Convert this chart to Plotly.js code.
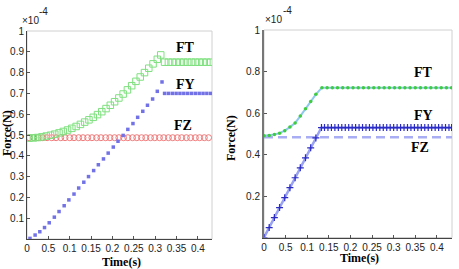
<!DOCTYPE html>
<html><head><meta charset="utf-8">
<script src="https://cdn.plot.ly/plotly-3.0.1.min.js"></script>
<style>html,body{margin:0;padding:0;background:#fff}#c{width:459px;height:269px}</style>
</head><body><div id="c"></div>
<script>
// ---- Left chart data ----
const tickLabelsX = ["0","0.5","0.1","0.15","0.2","0.25","0.3","0.35","0.4"];
const tickValsX = [0,0.05,0.1,0.15,0.2,0.25,0.3,0.35,0.4];

const leftFT_t = [0.005,0.015,0.025,0.035,0.045,0.055,0.065,0.075,0.085,0.095,0.105,0.115,0.125,0.135,0.145,0.155,0.165,0.175,0.185,0.195,0.205,0.215,0.225,0.235,0.245,0.255,0.265,0.275,0.285,0.295,0.305,0.313,
  0.322,0.331,0.340,0.349,0.358,0.367,0.376,0.385,0.394,0.403,0.412,0.421,0.430];
const leftFT_v = [0.485,0.486,0.488,0.491,0.495,0.499,0.504,0.510,0.517,0.524,0.532,0.541,0.551,0.562,0.573,0.585,0.598,0.612,0.627,0.643,0.660,0.678,0.697,0.717,0.737,0.758,0.779,0.800,0.821,0.842,0.864,0.885,
  0.85,0.85,0.85,0.85,0.85,0.85,0.85,0.85,0.85,0.85,0.85,0.85,0.85];

const leftFY_t = [0.007,0.019,0.030,0.041,0.052,0.064,0.075,0.087,0.098,0.110,0.121,0.133,0.144,0.156,0.167,0.179,0.190,0.202,0.213,0.225,0.236,0.248,0.259,0.271,0.282,0.294,0.305,0.316,
  0.322,0.331,0.340,0.349,0.358,0.367,0.376,0.385,0.394,0.403,0.412,0.421,0.430];
const leftFY_v = [0.003,0.019,0.035,0.055,0.078,0.105,0.132,0.160,0.188,0.216,0.245,0.273,0.300,0.329,0.357,0.385,0.413,0.442,0.470,0.498,0.527,0.555,0.585,0.614,0.643,0.673,0.710,0.755,
  0.70,0.70,0.70,0.70,0.70,0.70,0.70,0.70,0.70,0.70,0.70,0.70,0.70];

const leftFZ_t = [0.005,0.016,0.026,0.037,0.047,0.058,0.068,0.079,0.089,0.100,0.110,0.121,0.131,0.142,0.152,0.163,0.173,0.184,0.194,0.205,0.215,0.226,0.236,0.247,0.257,0.268,0.278,0.289,0.299,0.310,0.320,0.331,0.341,0.352,0.362,0.373,0.383,0.394,0.404,0.415,0.425];
const leftFZ_v = [0.487,0.487,0.487,0.487,0.487,0.487,0.487,0.487,0.487,0.487,0.487,0.487,0.487,0.487,0.487,0.487,0.487,0.487,0.487,0.487,0.487,0.487,0.487,0.487,0.487,0.487,0.487,0.487,0.487,0.487,0.487,0.487,0.487,0.487,0.487,0.487,0.487,0.487,0.487,0.487,0.487];

// ---- Right chart data ----
const rightFT_t = [0,0.012,0.024,0.036,0.048,0.060,0.072,0.084,0.096,0.108,0.120,0.134,
  0.146,0.158,0.170,0.182,0.194,0.206,0.218,0.230,0.242,0.254,0.266,0.278,0.290,0.302,0.314,0.326,0.338,0.350,0.362,0.374,0.386,0.398,0.410,0.422,0.434];
const rightFT_v = [0.49,0.492,0.496,0.503,0.515,0.532,0.552,0.585,0.620,0.655,0.690,0.722,
  0.722,0.722,0.722,0.722,0.722,0.722,0.722,0.722,0.722,0.722,0.722,0.722,0.722,0.722,0.722,0.722,0.722,0.722,0.722,0.722,0.722,0.722,0.722,0.722,0.722];

const rightFY_t = [0,0.012,0.024,0.036,0.048,0.060,0.072,0.084,0.096,0.108,0.120,0.133,
  0.140,0.148,0.156,0.164,0.172,0.180,0.188,0.196,0.204,0.212,0.220,0.228,0.236,0.244,0.252,0.260,0.268,0.276,0.284,0.292,0.300,0.308,0.316,0.324,0.332,0.340,0.348,0.356,0.364,0.372,0.380,0.388,0.396,0.404,0.412,0.420,0.428,0.434];
const rightFY_v = [0,0.048,0.096,0.144,0.192,0.240,0.288,0.336,0.384,0.432,0.480,0.530,
  0.530,0.530,0.530,0.530,0.530,0.530,0.530,0.530,0.530,0.530,0.530,0.530,0.530,0.530,0.530,0.530,0.530,0.530,0.530,0.530,0.530,0.530,0.530,0.530,0.530,0.530,0.530,0.530,0.530,0.530,0.530,0.530,0.530,0.530,0.530,0.530,0.530,0.530];

const rightFZ_t = [0,0.44];
const rightFZ_v = [0.483,0.483];

const leftYTicks = [0.1,0.2,0.3,0.4,0.5,0.6,0.7,0.8,0.9,1];
const leftYLabels = ["0.1","0.2","0.3","0.4","0.5","0.6","0.7","0.8","0.9","1"];
const rightYTicks = [0.2,0.4,0.6,0.8,1];
const rightYLabels = ["0.2","0.4","0.6","0.8","1"];

const traces = [
  {x:leftFZ_t, y:leftFZ_v, xaxis:'x', yaxis:'y', mode:'markers', type:'scatter',
   marker:{symbol:'circle-open', size:6, color:'#f07a7a', line:{width:1}}},
  {x:leftFT_t, y:leftFT_v, xaxis:'x', yaxis:'y', mode:'markers', type:'scatter',
   marker:{symbol:'square-open', size:6.5, color:'#7fe07f', line:{width:1}}},
  {x:leftFY_t, y:leftFY_v, xaxis:'x', yaxis:'y', mode:'markers', type:'scatter',
   marker:{symbol:'square', size:3.5, color:'#7272e6'}},
  {x:rightFZ_t, y:rightFZ_v, xaxis:'x2', yaxis:'y2', mode:'lines', type:'scatter',
   line:{color:'#a9aef4', width:2.5, dash:'9px,5px'}},
  {x:rightFT_t, y:rightFT_v, xaxis:'x2', yaxis:'y2', mode:'lines+markers', type:'scatter',
   line:{color:'#8fc8ef', width:2}, marker:{symbol:'circle', size:3.5, color:'#3fcc3f'}},
  {x:rightFY_t, y:rightFY_v, xaxis:'x2', yaxis:'y2', mode:'lines+markers', type:'scatter',
   line:{color:'#9aa2f2', width:2.5}, marker:{symbol:'cross-thin-open', size:5, color:'#2c2cc4', line:{width:1.2, color:'#2c2cc4'}}}
];

const tickFont = {family:'Liberation Sans, Arial, sans-serif', size:10, color:'#222'};
const axX = (dom, range) => ({domain:dom, range:range, showgrid:false, zeroline:false, showline:true, linecolor:'#444', linewidth:1,
  ticks:'inside', ticklen:3, tickcolor:'#555', tickvals:tickValsX, ticktext:tickLabelsX, tickfont:tickFont, fixedrange:true});

const lbl = (x, y, xr, yr, t) => ({x:x, y:y, xref:xr, yref:yr, text:t, showarrow:false, xanchor:'center', yanchor:'middle',
  font:{family:'Liberation Serif, Times New Roman, serif', size:14, color:'#000', weight:'bold'}});
const ann = (x, y, t, opts) => Object.assign({x:x, y:y, xref:'paper', yref:'paper', text:t, showarrow:false, xanchor:'center', yanchor:'middle'}, opts);
const titleFont = {family:'Liberation Serif, Times New Roman, serif', size:12, color:'#000', weight:'bold'};
const smallFont = {family:'Liberation Sans, Arial, sans-serif', size:10, color:'#222'};

const layout = {
  width:459, height:269, margin:{l:0,r:0,t:0,b:0}, paper_bgcolor:'#fff', plot_bgcolor:'#fff', showlegend:false,
  xaxis: axX([27/459, 212/459], [0, 0.433]),
  yaxis: {domain:[1-239/269, 1-31/269], range:[0,1], showgrid:false, zeroline:false, showline:true, linecolor:'#444', linewidth:1,
    ticks:'inside', ticklen:3, tickcolor:'#555', tickvals:leftYTicks, ticktext:leftYLabels, tickfont:tickFont, fixedrange:true},
  xaxis2: Object.assign(axX([264/459, 452/459], [0, 0.435]), {anchor:'y2'}),
  yaxis2: {domain:[1-237.5/269, 1-30/269], range:[0,1], anchor:'x2', showgrid:false, zeroline:false, showline:true, linecolor:'#777', linewidth:2,
    ticks:'inside', ticklen:3, tickcolor:'#555', tickvals:rightYTicks, ticktext:rightYLabels, tickfont:tickFont, fixedrange:true},
  shapes:[
    {type:'rect', xref:'x domain', yref:'y domain', x0:0, x1:1, y0:0, y1:1, line:{color:'#d0d0d0', width:1}, layer:'below'},
    {type:'rect', xref:'x2 domain', yref:'y2 domain', x0:0, x1:1, y0:0, y1:1, line:{color:'#d0d0d0', width:1}, layer:'below'}
  ],
  annotations:[
    lbl(0.372, 0.923, 'x', 'y', 'FT'),
    lbl(0.370, 0.745, 'x', 'y', 'FY'),
    lbl(0.365, 0.548, 'x', 'y', 'FZ'),
    lbl(0.368, 0.793, 'x2', 'y2', 'FT'),
    lbl(0.368, 0.586, 'x2', 'y2', 'FY'),
    lbl(0.361, 0.436, 'x2', 'y2', 'FZ'),
    ann(121/459, 1-262/269, 'Time(s)', {font:titleFont}),
    ann(359/459, 1-258/269, 'Time(s)', {font:titleFont}),
    ann(7/459, 1-133/269, 'Force(N)', {font:titleFont, textangle:-90}),
    ann(231/459, 1-138/269, 'Force(N)', {font:titleFont, textangle:-90}),
    ann(30/459, 1-20/269, '×10', {font:smallFont}),
    ann(43/459, 1-11/269, '-4', {font:smallFont}),
    ann(273/459, 1-19/269, '×10', {font:smallFont}),
    ann(287/459, 1-10/269, '-4', {font:smallFont})
  ]
};
Plotly.newPlot('c', traces, layout, {staticPlot:true, displayModeBar:false});
</script></body></html>
